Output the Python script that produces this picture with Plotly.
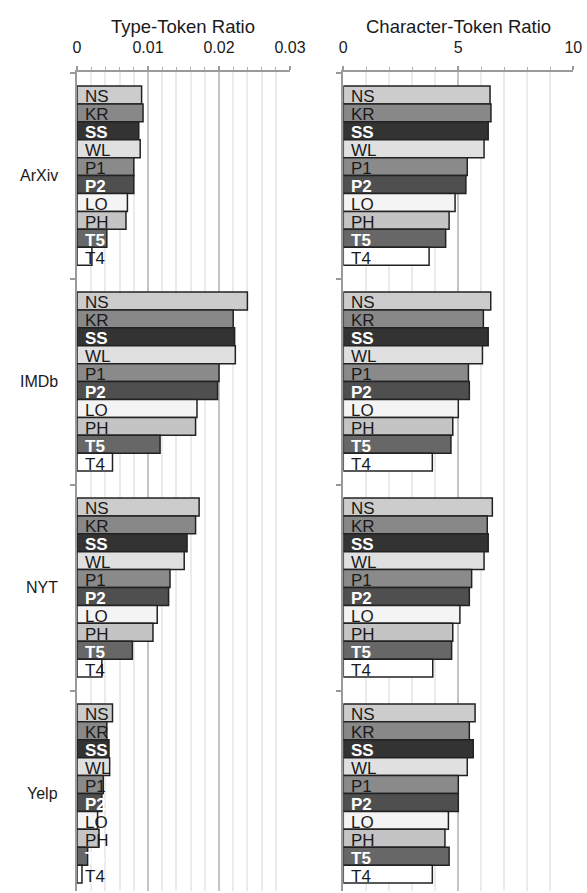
import plotly.graph_objects as go

# ---------------- data ----------------
methods = ["NS", "KR", "SS", "WL", "P1", "P2", "LO", "PH", "T5", "T4"]
datasets = ["ArXiv", "IMDb", "NYT", "Yelp"]

# Type-Token Ratio (per dataset, in method order)
ttr_arxiv = [0.0091, 0.0093, 0.0087, 0.0089, 0.0080, 0.0080, 0.0071, 0.0069, 0.0042, 0.0021]
ttr_imdb = [0.0240, 0.0220, 0.0222, 0.0223, 0.0200, 0.0198, 0.0169, 0.0167, 0.0117, 0.0050]
ttr_nyt = [0.0172, 0.0167, 0.0155, 0.0151, 0.0131, 0.0129, 0.0113, 0.0107, 0.0078, 0.0035]
ttr_yelp = [0.0050, 0.0042, 0.0045, 0.0046, 0.0037, 0.0035, 0.0029, 0.0031, 0.0015, 0.0007]

# Character-Token Ratio
ctr_arxiv = [6.38, 6.42, 6.30, 6.12, 5.39, 5.33, 4.86, 4.60, 4.45, 3.73]
ctr_imdb = [6.41, 6.09, 6.30, 6.05, 5.44, 5.48, 5.00, 4.76, 4.68, 3.87]
ctr_nyt = [6.48, 6.26, 6.30, 6.12, 5.58, 5.48, 5.07, 4.76, 4.71, 3.89]
ctr_yelp = [5.73, 5.48, 5.65, 5.39, 5.00, 5.00, 4.57, 4.42, 4.60, 3.87]

ttr_tickvals = [0, 0.01, 0.02, 0.03]
ttr_ticktext = ["0", "0.01", "0.02", "0.03"]
ctr_tickvals = [0, 5, 10]
ctr_ticktext = ["0", "5", "10"]

# ---------------- styling ----------------
colors = ["#cccccc", "#888888", "#333333", "#e0e0e0", "#8a8a8a",
          "#4f4f4f", "#f4f4f4", "#c4c4c4", "#676767", "#ffffff"]
dark_methods = {"SS", "P2", "T5"}
FONT = "Liberation Sans, Arial, Helvetica, sans-serif"
W, H = 587, 893
PITCH = 11.5  # group pitch in bar units

ttr = [ttr_arxiv, ttr_imdb, ttr_nyt, ttr_yelp]
ctr = [ctr_arxiv, ctr_imdb, ctr_nyt, ctr_yelp]

def pos(g, i):
    return g * PITCH + i

fig = go.Figure()

for panel, (vals, xa, ya) in enumerate([(ttr, "x", "y"), (ctr, "x2", "y2")]):
    for i, m in enumerate(methods):
        fig.add_trace(go.Bar(
            x=[vals[g][i] for g in range(len(datasets))],
            y=[pos(g, i) for g in range(len(datasets))],
            orientation="h",
            width=1.0,
            marker=dict(color=colors[i], line=dict(color="#222222", width=1.5)),
            xaxis=xa, yaxis=ya,
            showlegend=False,
            hoverinfo="x+name",
            name=m,
        ))

annotations = []
for xa, ya in [("x", "y"), ("x2", "y2")]:
    for g in range(len(datasets)):
        for i, m in enumerate(methods):
            dark = m in dark_methods
            annotations.append(dict(
                x=0, y=pos(g, i), xref=xa, yref=ya,
                xanchor="left", yanchor="middle", xshift=6, yshift=-2,
                text=("<b>%s</b>" % m) if dark else m,
                showarrow=False,
                font=dict(family=FONT, size=17,
                          color="#ffffff" if dark else "#1a1a1a"),
            ))

for g, d in enumerate(datasets):
    annotations.append(dict(
        x=60 / W, y=pos(g, 4.5), xref="paper", yref="y",
        xanchor="right", yanchor="middle", text=d, showarrow=False,
        font=dict(family=FONT, size=16, color="#1a1a1a"),
    ))

left_dom = [77 / W, 290 / W]
right_dom = [343.3 / W, 573.3 / W]
for dom, title in [(left_dom, "Type-Token Ratio"), (right_dom, "Character-Token Ratio")]:
    annotations.append(dict(
        x=(dom[0] + dom[1]) / 2, y=1 - 26 / H, xref="paper", yref="paper",
        xanchor="center", yanchor="middle", text=title, showarrow=False,
        font=dict(family=FONT, size=18.5, color="#1a1a1a"),
    ))

y_top, y_bot = -1.3, 44.45
y_dom = [1 - (95 + y_bot * 17.91) / H, 1 - (95 + y_top * 17.91) / H]
sep_ticks = [-1.25] + [pos(g, 10.25) for g in range(len(datasets) - 1)]

def xaxis_cfg(dom, rng, tv, tt, minor_dtick, anchor):
    return dict(
        domain=dom, range=rng, side="top", anchor=anchor, automargin=False,
        tickvals=tv, ticktext=tt,
        showline=True, linecolor="#9a9a9a", linewidth=2,
        ticks="outside", ticklen=4, tickwidth=2, tickcolor="#9a9a9a",
        ticklabelstandoff=6,
        showgrid=True, gridcolor="#c4c4c4", gridwidth=2,
        zeroline=False,
        tickfont=dict(family=FONT, size=16, color="#1a1a1a"),
        minor=dict(dtick=minor_dtick, tick0=0, ticks="outside", ticklen=3,
                   tickwidth=1, tickcolor="#b0b0b0",
                   showgrid=True, gridcolor="#ebebeb", gridwidth=2),
        fixedrange=True,
    )

def yaxis_cfg(anchor):
    return dict(
        domain=y_dom, range=[y_bot, y_top], anchor=anchor, automargin=False,
        tickvals=sep_ticks, ticktext=["" for _ in sep_ticks],
        showline=True, linecolor="#9a9a9a", linewidth=2,
        ticks="outside", ticklen=5, tickwidth=2, tickcolor="#9a9a9a",
        showgrid=False, zeroline=False, fixedrange=True,
    )

fig.update_layout(
    width=W, height=H,
    margin=dict(l=0, r=0, t=0, b=0, autoexpand=False),
    paper_bgcolor="white", plot_bgcolor="white",
    barmode="overlay",
    xaxis=xaxis_cfg(left_dom, [0, 0.03], ttr_tickvals, ttr_ticktext, 0.002, "y"),
    xaxis2=xaxis_cfg(right_dom, [0, 10], ctr_tickvals, ctr_ticktext, 1, "y2"),
    yaxis=yaxis_cfg("x"),
    yaxis2=yaxis_cfg("x2"),
    annotations=annotations,
    font=dict(family=FONT),
)

fig.write_html(
    "out.html",
    config={"displayModeBar": False},
    post_script="document.body.style.margin='0';document.body.style.overflow='hidden';",
)
